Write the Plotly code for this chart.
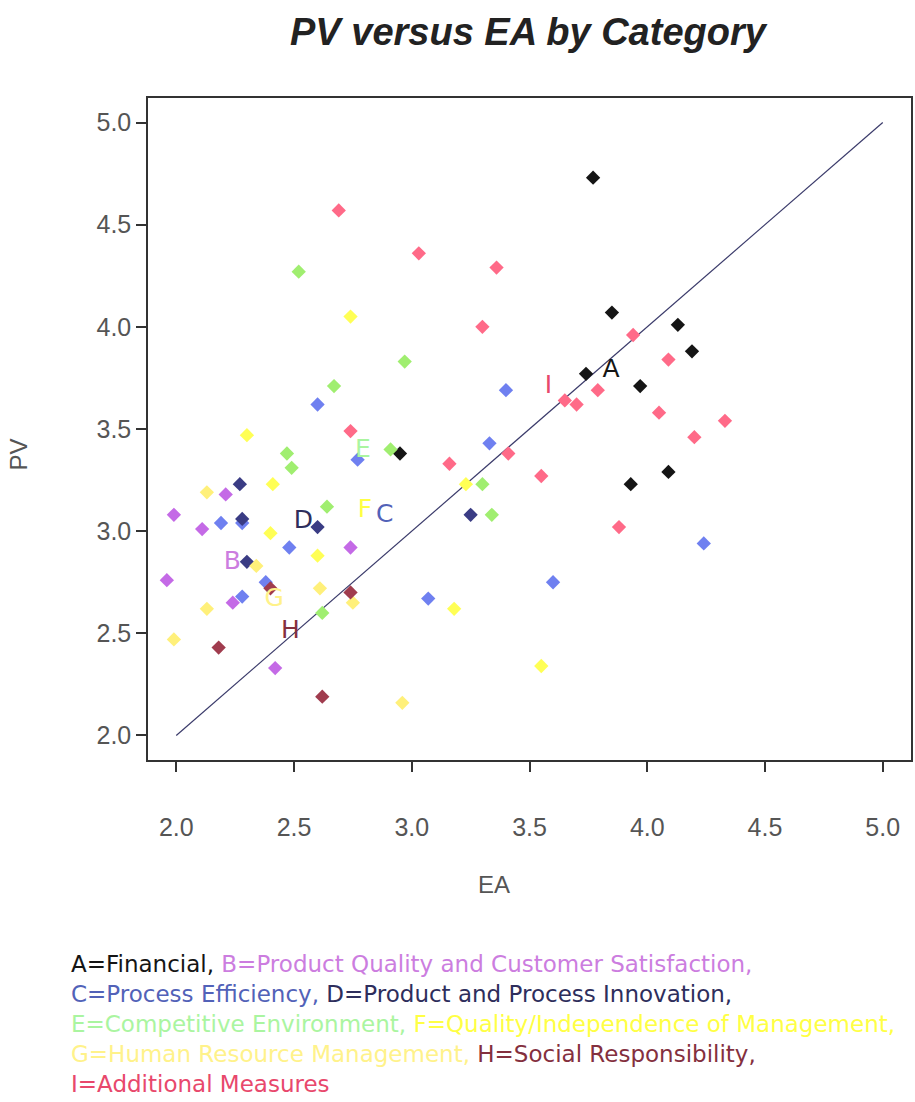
import plotly.graph_objects as go

# ---- data ----
A_x = [3.77, 3.85, 4.13, 4.19, 3.97, 3.74, 4.09, 2.95, 3.93]
A_y = [4.73, 4.07, 4.01, 3.88, 3.71, 3.77, 3.29, 3.38, 3.23]
B_x = [2.21, 1.99, 2.11, 2.74, 1.96, 2.24, 2.42]
B_y = [3.18, 3.08, 3.01, 2.92, 2.76, 2.65, 2.33]
C_x = [2.60, 3.40, 3.33, 2.77, 4.24, 2.19, 2.28, 2.48, 2.38, 2.28, 3.07, 3.60]
C_y = [3.62, 3.69, 3.43, 3.35, 2.94, 3.04, 3.04, 2.92, 2.75, 2.68, 2.67, 2.75]
D_x = [3.25, 2.27, 2.28, 2.60, 2.30]
D_y = [3.08, 3.23, 3.06, 3.02, 2.85]
E_x = [2.52, 2.97, 2.67, 2.47, 2.91, 2.49, 3.30, 3.34, 2.64, 2.62]
E_y = [4.27, 3.83, 3.71, 3.38, 3.40, 3.31, 3.23, 3.08, 3.12, 2.60]
F_x = [2.74, 2.30, 2.41, 3.23, 2.40, 2.60, 3.18, 3.55]
F_y = [4.05, 3.47, 3.23, 3.23, 2.99, 2.88, 2.62, 2.34]
G_x = [2.13, 2.34, 2.61, 2.75, 2.13, 1.99, 2.96]
G_y = [3.19, 2.83, 2.72, 2.65, 2.62, 2.47, 2.16]
H_x = [2.40, 2.74, 2.18, 2.62]
H_y = [2.72, 2.70, 2.43, 2.19]
I_x = [2.69, 3.03, 3.36, 3.30, 4.09, 4.05, 4.33, 4.20, 3.94, 3.79, 3.65, 3.70, 3.41, 3.16, 3.55, 3.88, 2.74]
I_y = [4.57, 4.36, 4.29, 4.00, 3.84, 3.58, 3.54, 3.46, 3.96, 3.69, 3.64, 3.62, 3.38, 3.33, 3.27, 3.02, 3.49]

letters = ["A", "B", "C", "D", "E", "F", "G", "H", "I"]
names = ["Financial", "Product Quality and Customer Satisfaction", "Process Efficiency",
         "Product and Process Innovation", "Competitive Environment",
         "Quality/Independence of Management", "Human Resource Management",
         "Social Responsibility", "Additional Measures"]
point_colors = ["#151515", "#c46ae6", "#6f80f0", "#3a3c84", "#a0ee70",
                "#ffff55", "#fff07a", "#a03c4e", "#ff6a88"]
text_colors = ["#151515", "#cc7ddf", "#5262b8", "#2e2e5c", "#aaf5a0",
               "#ffff44", "#fff28a", "#84303e", "#e8486c"]
diag = [2.0, 5.0]
ticks = [2.0, 2.5, 3.0, 3.5, 4.0, 4.5, 5.0]

series = [(A_x, A_y), (B_x, B_y), (C_x, C_y), (D_x, D_y), (E_x, E_y),
          (F_x, F_y), (G_x, G_y), (H_x, H_y), (I_x, I_y)]

fig = go.Figure()
fig.add_trace(go.Scatter(x=diag, y=diag, mode="lines",
                         line=dict(color="#3b3b6b", width=1.2), hoverinfo="skip"))

for (xs, ys), L, pc in zip(series, letters, point_colors):
    fig.add_trace(go.Scatter(x=xs, y=ys, mode="markers", name=L,
                             marker=dict(symbol="diamond", size=11, color=pc,
                                         line=dict(width=0))))

# category letters at the centroid of each category
for (xs, ys), L, tc in zip(series, letters, text_colors):
    cx = sum(xs) / len(xs)
    cy = sum(ys) / len(ys)
    fig.add_trace(go.Scatter(x=[cx], y=[cy], mode="text", text=[L],
                             textfont=dict(family="DejaVu Sans", size=25, color=tc),
                             hoverinfo="skip"))

axis_common = dict(range=[1.88, 5.12], tickvals=ticks, tickformat=".1f",
                   showgrid=False, zeroline=False, showline=True, mirror=True,
                   linecolor="#333333", linewidth=1.5, ticks="outside", ticklen=10,
                   tickcolor="#333333", tickwidth=1.5,
                   tickfont=dict(family="Liberation Sans", size=25, color="#555555"))

fig.update_xaxes(**axis_common, ticklabelstandoff=34)
fig.update_yaxes(**axis_common, ticklabelstandoff=0)

legend_lines = [[0, 1], [2, 3], [4, 5], [6, 7], [8]]
html_lines = []
for idxs in legend_lines:
    parts = []
    for j, k in enumerate(idxs):
        s = f"{letters[k]}={names[k]}" + ("" if k == len(letters) - 1 else ",")
        if j < len(idxs) - 1:
            s += " "
        parts.append(f"<span style='color:{text_colors[k]}'>{s}</span>")
    html_lines.append("".join(parts))

fig.update_layout(
    width=915, height=1102,
    margin=dict(l=148, r=2, t=98, b=342),
    paper_bgcolor="white", plot_bgcolor="white",
    showlegend=False,
    title=dict(text="<b><i>PV versus EA by Category</i></b>", x=0.577, xanchor="center",
               y=0.971, yanchor="middle",
               font=dict(family="Liberation Sans", size=38, color="#222222")),
    annotations=[
        dict(text="EA", xref="paper", yref="paper", x=0.454, y=-0.188,
             xanchor="center", yanchor="middle", showarrow=False,
             font=dict(family="Liberation Sans", size=24, color="#555555")),
        dict(text="PV", xref="paper", yref="paper", x=-0.17, y=0.462,
             xanchor="center", yanchor="middle", showarrow=False, textangle=-90,
             font=dict(family="Liberation Sans", size=24, color="#555555")),
        dict(text="<br>".join(html_lines), xref="paper", yref="paper",
             x=-0.103, y=-0.285, xanchor="left", yanchor="top", align="left",
             showarrow=False,
             font=dict(family="DejaVu Sans", size=23, color="#151515")),
    ],
)

fig.write_html("out.html", config={"displayModeBar": False},
               post_script="document.body.style.margin='0';document.body.style.padding='0';")
